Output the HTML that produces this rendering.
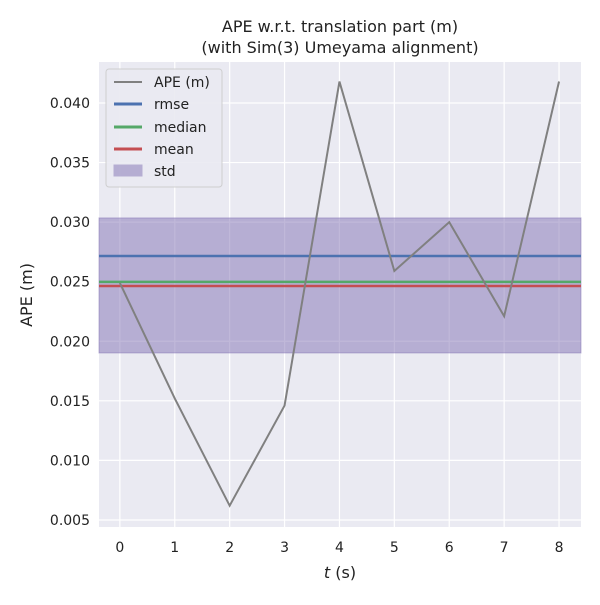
<!DOCTYPE html>
<html><head><meta charset="utf-8"><style>
body{margin:0;background:#fff;font-family:"Liberation Sans","DejaVu Sans",sans-serif}
</style></head><body>
<svg id="chart" width="600" height="600" xmlns="http://www.w3.org/2000/svg">
<text x="340" y="32" text-anchor="middle" font-size="16" fill="#222" font-family="DejaVu Sans, sans-serif">APE w.r.t. translation part (m)</text>
<text x="340" y="53" text-anchor="middle" font-size="16" fill="#222" font-family="DejaVu Sans, sans-serif">(with Sim(3) Umeyama alignment)</text>
<rect x="99" y="62" width="482" height="465" fill="#eaeaf2"/>
<g id="grid"></g><g id="band"></g><g id="lines"></g><g id="ticks"></g>
<text x="340" y="578" text-anchor="middle" font-size="16" fill="#222" font-family="DejaVu Sans, sans-serif"><tspan font-style="italic">t</tspan> (s)</text>
<text transform="translate(32,295) rotate(-90)" text-anchor="middle" font-size="16" fill="#222" font-family="DejaVu Sans, sans-serif">APE (m)</text>
<g>
<rect x="106" y="69" width="116" height="118" rx="3" fill="#eaeaf2" stroke="#ccc" opacity="0.9"/>
<line x1="114" y1="82" x2="142" y2="82" stroke="#808080" stroke-width="2"/><text x="154" y="87" font-size="14" fill="#222" font-family="DejaVu Sans, sans-serif">APE (m)</text>
<line x1="114" y1="104" x2="142" y2="104" stroke="#4c72b0" stroke-width="3"/><text x="154" y="109" font-size="14" fill="#222" font-family="DejaVu Sans, sans-serif">rmse</text>
<line x1="114" y1="127" x2="142" y2="127" stroke="#55a868" stroke-width="3"/><text x="154" y="132" font-size="14" fill="#222" font-family="DejaVu Sans, sans-serif">median</text>
<line x1="114" y1="149" x2="142" y2="149" stroke="#c44e52" stroke-width="3"/><text x="154" y="154" font-size="14" fill="#222" font-family="DejaVu Sans, sans-serif">mean</text>
<rect x="114" y="165" width="28" height="11" fill="#8172b3" opacity="0.5" stroke="#8172b3"/><text x="154" y="176" font-size="14" fill="#222" font-family="DejaVu Sans, sans-serif">std</text>
</g>
</svg>
<script>
const times=[0,1,2,3,4,5,6,7,8];
const apeValues=[0.0249,0.0152,0.0062,0.0146,0.0418,0.0259,0.0300,0.0221,0.0418];
const rmse=0.02716, median=0.02498, mean=0.02464, stdLow=0.01902, stdHigh=0.03035;
const xTicks=[0,1,2,3,4,5,6,7,8];
const yTicks=[0.005,0.010,0.015,0.020,0.025,0.030,0.035,0.040];
const NS="http://www.w3.org/2000/svg";
const L=99,R=581,T=62,B=527,xMin=-0.38,xMax=8.4,yMin=0.00441,yMax=0.04344;
const sx=v=>L+(v-xMin)/(xMax-xMin)*(R-L);
const sy=v=>B-(v-yMin)/(yMax-yMin)*(B-T);
function mk(tag,attrs,parent){const e=document.createElementNS(NS,tag);for(const k in attrs)e.setAttribute(k,attrs[k]);document.getElementById(parent).appendChild(e);return e;}
xTicks.forEach(t=>{const g=mk('line',{x1:sx(t),x2:sx(t),y1:T,y2:B,stroke:'#fff','stroke-width':1.2},'grid');


const l=mk('text',{x:sx(t),y:B+25,'text-anchor':'middle','font-size':14,fill:'#222','font-family':'DejaVu Sans, sans-serif'},'ticks');l.textContent=t;

});
yTicks.forEach(t=>{const g=mk('line',{x1:L,x2:R,y1:sy(t),y2:sy(t),stroke:'#fff','stroke-width':1.2},'grid');


const l=mk('text',{x:L-9,y:sy(t)+5,'text-anchor':'end','font-size':14,fill:'#222','font-family':'DejaVu Sans, sans-serif'},'ticks');l.textContent=t.toFixed(3);

});
const band=mk('rect',{x:L,width:R-L,y:sy(stdHigh),height:sy(stdLow)-sy(stdHigh),fill:'#8172b3','fill-opacity':0.5,stroke:'#8172b3','stroke-opacity':0.5},'band');


[[rmse,'#4c72b0','rmse-line'],[median,'#55a868','median-line'],[mean,'#c44e52','mean-line']].forEach(([v,c,n])=>{
const l=mk('line',{x1:L,x2:R,y1:sy(v),y2:sy(v),stroke:c,'stroke-width':2.5},'lines');

});
const p=mk('polyline',{points:times.map((t,i)=>sx(t)+','+sy(apeValues[i])).join(' '),fill:'none',stroke:'#808080','stroke-width':2},'lines');


</script>
</body></html>
